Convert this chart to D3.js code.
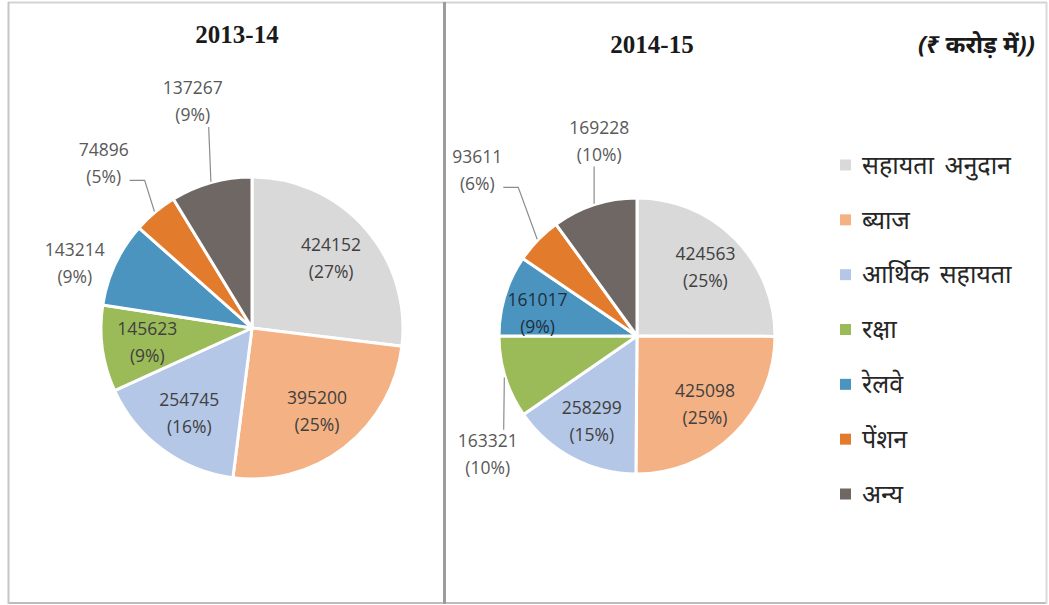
<!DOCTYPE html>
<html>
<head>
<meta charset="utf-8">
<script src="https://cdn.jsdelivr.net/npm/d3@7"></script>
<style>
  body { margin: 0; background: #fff; }
  svg { display: block; }
</style>
</head>
<body>
<svg id="chart" width="1049" height="605"></svg>
<script>
// Expenditure heads (legend order = slice order, clockwise from 12 o'clock)
const categories = ["सहायता अनुदान", "ब्याज", "आर्थिक सहायता", "रक्षा", "रेलवे", "पेंशन", "अन्य"];
const values2013 = [424152, 395200, 254745, 145623, 143214, 74896, 137267];
const values2014 = [424563, 425098, 258299, 163321, 161017, 93611, 169228];
const yearLabels = ["2013-14", "2014-15"];
const unitLabel = "(₹ करोड़ में))";

const colors = ["#d9d9d9", "#f4b183", "#b4c7e7", "#9bbb59", "#4b94bf", "#e37b2c", "#6e6764"];

const svg = d3.select("#chart");

// panel frame
const frame = svg.append("g").attr("fill", "none");
frame.append("line").attr("x1", 8).attr("x2", 1047).attr("y1", 2.5).attr("y2", 2.5).attr("stroke", "#d4d4d4").attr("stroke-width", 2);
frame.append("line").attr("x1", 8).attr("x2", 1047).attr("y1", 603).attr("y2", 603).attr("stroke", "#bdbdbd").attr("stroke-width", 2);
frame.append("line").attr("x1", 8.5).attr("x2", 8.5).attr("y1", 2).attr("y2", 604).attr("stroke", "#c6c6c6").attr("stroke-width", 2);
frame.append("line").attr("x1", 444.5).attr("x2", 444.5).attr("y1", 2).attr("y2", 604).attr("stroke", "#9c9c9c").attr("stroke-width", 3);
frame.append("line").attr("x1", 1046.5).attr("x2", 1046.5).attr("y1", 2).attr("y2", 604).attr("stroke", "#dadada").attr("stroke-width", 2);

// per-pie layout: centre, radius, title position, and placement of labels drawn outside
const pieLayouts = [
  {
    values: values2013, title: yearLabels[0], cx: 252, cy: 328, r: 151, titleX: 237, titleY: 43,
    inner: {},
    outer: {
      4: { rf: 1.25, da: -5, leader: "none" },
      5: { rf: 1.47, da: -2, leader: "elbow" },
      6: { rf: 1.55, da: 1, leader: "straight" }
    }
  },
  {
    values: values2014, title: yearLabels[1], cx: 637, cy: 336, r: 138, titleX: 652, titleY: 53,
    inner: { 4: { rf: 0.74, da: -4, color: "#1e2f3c" } },
    outer: {
      3: { rf: 1.38, da: -21, leader: "straight" },
      5: { rf: 1.67, da: 2, leader: "elbow" },
      6: { rf: 1.44, da: 7, leader: "straight" }
    }
  }
];

const pie = d3.pie().sort(null).value(d => d);
const deg = Math.PI / 180;
const polar = (a, r) => [r * Math.sin(a), -r * Math.cos(a)];
const labelFont = "'Open Sans', 'Liberation Sans', sans-serif";
const lineGap = 13.5;

pieLayouts.forEach(p => {
  const g = svg.append("g").attr("transform", `translate(${p.cx},${p.cy})`);
  const arcs = pie(p.values);
  const total = d3.sum(p.values);
  const arc = d3.arc().innerRadius(0).outerRadius(p.r);

  g.selectAll("path.slice")
    .data(arcs)
    .join("path")
    .attr("class", "slice")
    .attr("d", arc)
    .attr("fill", (d, i) => colors[i])
    .attr("stroke", "#fff")
    .attr("stroke-width", 3)
    .attr("stroke-linejoin", "round");

  // title above each pie
  svg.append("text")
    .attr("x", p.titleX).attr("y", p.titleY)
    .attr("text-anchor", "middle")
    .attr("font-family", "'Liberation Serif', 'Times New Roman', serif")
    .attr("font-weight", "bold")
    .attr("font-size", 25)
    .attr("fill", "#1a1a1a")
    .text(p.title);

  arcs.forEach((d, i) => {
    const mid = (d.startAngle + d.endAngle) / 2;
    const pct = Math.round(d.value / total * 100);
    const o = p.outer[i];
    let pos, color;
    if (o) {
      pos = polar(mid + o.da * deg, p.r * o.rf);
      color = "#595959";
    } else {
      const ic = p.inner[i] || { rf: 0.7, da: 0 };
      pos = polar(mid + (ic.da || 0) * deg, p.r * ic.rf);
      color = ic.color || "#404040";
    }
    const t = g.append("text")
      .attr("text-anchor", "middle")
      .attr("font-family", labelFont)
      .attr("font-size", 17.5)
      .attr("fill", color);
    t.append("tspan").attr("x", pos[0]).attr("y", pos[1] - lineGap).attr("dy", "0.35em").text(d3.format("d")(d.value));
    t.append("tspan").attr("x", pos[0]).attr("y", pos[1] + lineGap).attr("dy", "0.35em").text(`(${pct}%)`);

    if (o && o.leader !== "none") {
      const end = polar(mid, p.r + 1);
      let pts;
      if (o.leader === "elbow") {
        const y0 = pos[1] + lineGap + 4;
        const x0 = pos[0] + 26;
        pts = [[x0, y0], [x0 + 15, y0], end];
      } else {
        const above = pos[1] < end[1];
        const bb = t.node().getBBox();
        const xs = Math.max(bb.x + 4, Math.min(bb.x + bb.width - 14, end[0]));
        const ys = above ? pos[1] + lineGap + 12 : pos[1] - lineGap - 11;
        pts = [[xs, ys], end];
      }
      g.append("path")
        .attr("d", d3.line()(pts))
        .attr("fill", "none")
        .attr("stroke", "#8c8c8c")
        .attr("stroke-width", 1.2);
    }
  });
});

// unit note
svg.append("text")
  .attr("x", 1035).attr("y", 53)
  .attr("text-anchor", "end")
  .attr("font-family", "'Noto Sans', 'Liberation Serif', serif")
  .attr("font-weight", "bold")
  .attr("font-style", "italic")
  .attr("font-size", 24)
  .attr("fill", "#1a1a1a")
  .text(unitLabel);

// legend
const legendY = d3.scalePoint().domain(d3.range(categories.length)).range([165, 494]);
const legend = svg.append("g");
categories.forEach((c, i) => {
  const y = legendY(i);
  legend.append("rect").attr("x", 840).attr("y", y - 5.5).attr("width", 11).attr("height", 11).attr("fill", colors[i]);
  legend.append("text")
    .attr("x", 862).attr("y", y).attr("dy", "0.35em")
    .attr("font-family", "'Noto Sans', sans-serif")
    .attr("font-size", 25)
    .attr("word-spacing", 4)
    .attr("fill", "#262626")
    .text(c);
});
</script>
</body>
</html>
